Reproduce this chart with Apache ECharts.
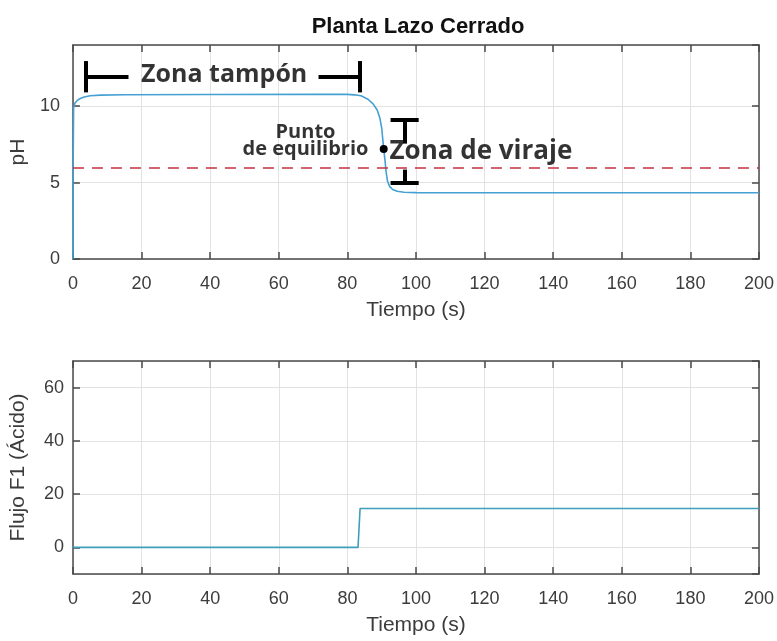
<!DOCTYPE html>
<html>
<head>
<meta charset="utf-8">
<script src="https://cdn.jsdelivr.net/npm/echarts@6/dist/echarts.min.js"></script>
<style>
  html, body { margin: 0; padding: 0; background: #fff; }
  #chart { width: 777px; height: 641px; }
</style>
</head>
<body>
<div id="chart"></div>
<script>
// Closed-loop plant response: pH and acid flow F1 over time
const timePH = [0, 0.02, 0.2, 0.6, 1.4, 2.3, 3.3, 5, 8, 15, 40, 70, 80, 82, 84, 86, 87.5, 88.7, 89.5, 90, 90.3, 90.6, 91, 91.3, 91.7, 92.3, 93.2, 94.5, 96.5, 100, 120, 200];
const pH     = [0, 5.0, 9.9, 10.2, 10.4, 10.52, 10.6, 10.68, 10.72, 10.75, 10.76, 10.77, 10.77, 10.74, 10.68, 10.45, 10.15, 9.75, 9.2, 8.6, 7.9, 7.2, 6.4, 5.7, 5.1, 4.75, 4.55, 4.43, 4.37, 4.34, 4.33, 4.33];

const timeF1 = [0, 83.1, 83.7, 200];
const flowF1 = [0, 0, 14.6, 14.6];

const setpointPH = 6;
const equilibrium = [90.6, 7.2];

const xTicks = { min: 0, max: 200, interval: 20 };
const phTicks = { min: 0, max: 14, interval: 5 };
const flowRange = { min: -10, max: 70 };

const tickFont = { fontFamily: 'Liberation Sans, Arial, sans-serif', fontSize: 18, color: '#3c3c3c' };
const labelFont = { fontFamily: 'Liberation Sans, Arial, sans-serif', fontSize: 21, color: '#3c3c3c' };
const annFont = 'Open Sans, Noto Sans, sans-serif';
const axisColor = '#4a4a4a';
const gridColor = '#e2e2e2';

const toPairs = (xs, ys) => xs.map((x, i) => [x, ys[i]]);

function mainX(gridIndex, name) {
  return {
    type: 'value', gridIndex, ...xTicks,
    name, nameLocation: 'middle', nameGap: 41, nameTextStyle: labelFont,
    axisLine: { show: true, onZero: false, lineStyle: { color: axisColor, width: 1.5 } },
    axisTick: { show: true, inside: true, length: 7, lineStyle: { color: axisColor, width: 1.5 } },
    axisLabel: { ...tickFont, margin: 16 },
    splitLine: { show: true, lineStyle: { color: gridColor, width: 1 } }
  };
}
function mirrorX(gridIndex) {
  return {
    type: 'value', gridIndex, position: 'top', ...xTicks,
    axisLine: { show: true, onZero: false, lineStyle: { color: axisColor, width: 1.5 } },
    axisTick: { show: true, inside: true, length: 7, lineStyle: { color: axisColor, width: 1.5 } },
    axisLabel: { show: false }, splitLine: { show: false }
  };
}
function mirrorY(gridIndex, range) {
  return {
    type: 'value', gridIndex, position: 'right', ...range,
    axisLine: { show: true, onZero: false, lineStyle: { color: axisColor, width: 1.5 } },
    axisTick: { show: true, inside: true, length: 7, lineStyle: { color: axisColor, width: 1.5 } },
    axisLabel: { show: false }, splitLine: { show: false }
  };
}

const bracket = (a, b) => [{ coord: a }, { coord: b }];

const chart = echarts.init(document.getElementById('chart'), null, { renderer: 'canvas' });
chart.setOption({
  backgroundColor: '#fff',
  animation: false,
  title: {
    text: 'Planta Lazo Cerrado', left: 413, top: 11, textAlign: 'center',
    textStyle: { fontFamily: 'Liberation Sans, Arial, sans-serif', fontSize: 22, fontWeight: 'bold', color: '#111' }
  },
  grid: [
    { left: 72, top: 45, width: 687, height: 214 },
    { left: 72, top: 361, width: 687, height: 213 }
  ],
  xAxis: [mainX(0, 'Tiempo (s)'), mirrorX(0), mainX(1, 'Tiempo (s)'), mirrorX(1)],
  yAxis: [
    {
      type: 'value', gridIndex: 0, ...phTicks,
      name: 'pH', nameLocation: 'middle', nameGap: 38, nameTextStyle: labelFont,
      axisLine: { show: true, onZero: false, lineStyle: { color: axisColor, width: 1.5 } },
      axisTick: { show: true, inside: true, length: 7, lineStyle: { color: axisColor, width: 1.5 } },
      axisLabel: { ...tickFont, margin: 13, showMaxLabel: false },
      splitLine: { show: true, lineStyle: { color: gridColor, width: 1 } }
    },
    mirrorY(0, phTicks),
    {
      type: 'value', gridIndex: 1, ...flowRange, splitNumber: 4,
      name: 'Flujo F1 (Ácido)', nameLocation: 'middle', nameGap: 44, nameTextStyle: labelFont,
      axisLine: { show: true, onZero: false, lineStyle: { color: axisColor, width: 1.5 } },
      axisTick: { show: true, inside: true, length: 7, lineStyle: { color: axisColor, width: 1.5 } },
      axisLabel: { ...tickFont, margin: 9, showMinLabel: false, showMaxLabel: false },
      splitLine: { show: true, lineStyle: { color: gridColor, width: 1 } }
    },
    { ...mirrorY(1, flowRange), splitNumber: 4 }
  ],
  series: [
    {
      name: 'pH', type: 'line', xAxisIndex: 0, yAxisIndex: 0,
      data: toPairs(timePH, pH), showSymbol: false, smooth: false,
      lineStyle: { color: '#45a0d4', width: 1.6 }, z: 3,
      markLine: {
        silent: true, symbol: ['none', 'none'], label: { show: false },
        lineStyle: { color: '#000', width: 4, type: 'solid' },
        data: [
          // pH reference level
          { yAxis: setpointPH, lineStyle: { color: '#c23040', width: 1.5, type: [11, 8] } },
          // Zona tampón bracket
          bracket([3.8, 12.95], [3.8, 10.9]),
          bracket([3.8, 11.95], [16.2, 11.95]),
          bracket([71.6, 11.95], [83.6, 11.95]),
          bracket([83.6, 12.95], [83.6, 10.9]),
          // Zona de viraje I-beam
          bracket([92.6, 9.13], [100.8, 9.13]),
          bracket([96.7, 9.13], [96.7, 7.55]),
          bracket([96.7, 5.85], [96.7, 4.99]),
          bracket([92.6, 4.99], [100.8, 4.99])
        ]
      },
      markPoint: {
        silent: true, symbol: 'circle', symbolSize: 8,
        itemStyle: { color: '#000' }, label: { show: false },
        data: [{ coord: equilibrium }]
      }
    },
    {
      name: 'anotaciones', type: 'scatter', xAxisIndex: 0, yAxisIndex: 0,
      symbolSize: 0, silent: true, z: 5,
      data: [
        { value: [44.1, 12.05], label: { show: true, position: 'inside', formatter: 'Zona tampón',
          fontFamily: annFont, fontWeight: 'bold', fontSize: 25, color: '#000' } },
        { value: [92.3, 7.0], label: { show: true, position: 'right', distance: 0, formatter: 'Zona de viraje',
          fontFamily: annFont, fontWeight: 'bold', fontSize: 26, color: '#000' } },
        { value: [67.8, 7.75], label: { show: true, position: 'inside', formatter: 'Punto\nde equilibrio', align: 'center',
          lineHeight: 17, fontFamily: annFont, fontWeight: 'bold', fontSize: 20, color: '#000' } }
      ]
    },
    {
      name: 'Flujo F1', type: 'line', xAxisIndex: 2, yAxisIndex: 2,
      data: toPairs(timeF1, flowF1), showSymbol: false,
      lineStyle: { color: '#3f9fba', width: 1.6 }
    }
  ]
});
</script>
</body>
</html>
